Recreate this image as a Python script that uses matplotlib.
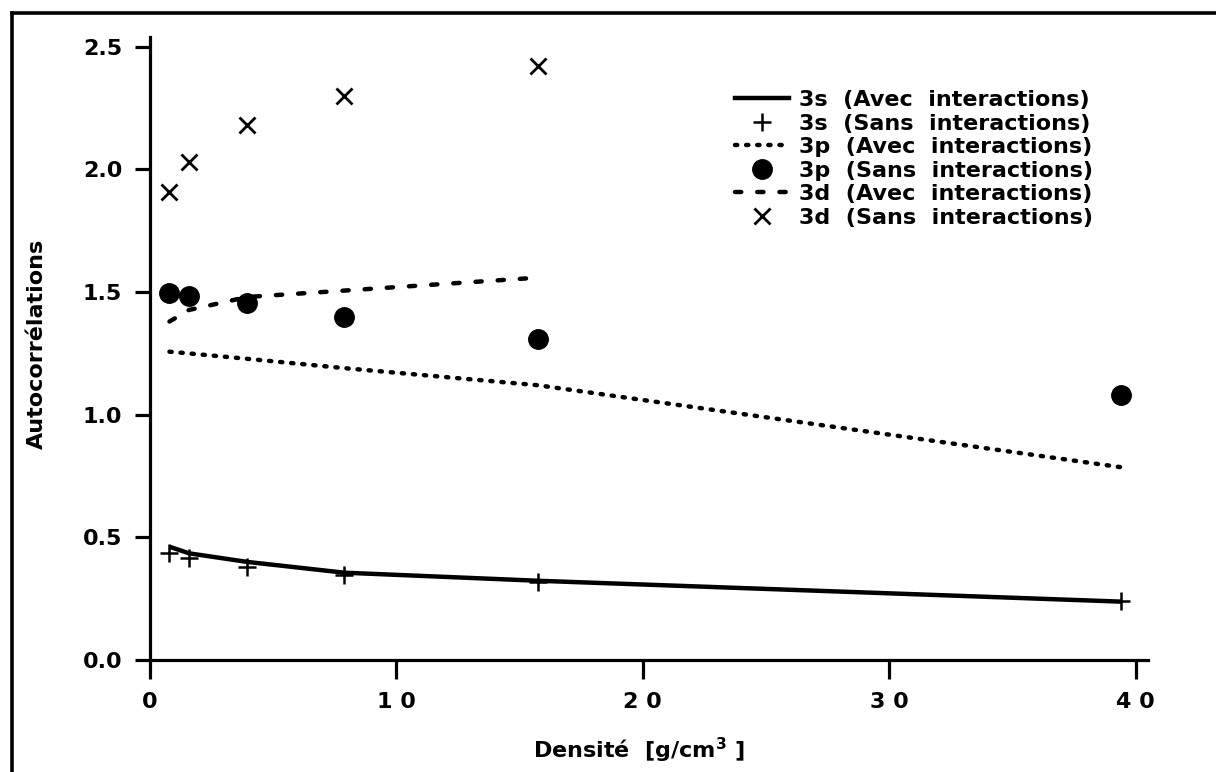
import matplotlib
matplotlib.use('Agg')
import matplotlib.pyplot as plt
from matplotlib.lines import Line2D

# Densités (g/cm3)
densite = [0.79, 1.58, 3.94, 7.88, 15.76, 39.4]
densite_3d = [0.79, 1.58, 3.94, 7.88, 15.76]

# Autocorrélations
s_avec = [0.462, 0.435, 0.400, 0.356, 0.323, 0.238]
s_sans = [0.435, 0.415, 0.380, 0.347, 0.319, 0.242]
p_avec = [1.257, 1.250, 1.228, 1.190, 1.120, 0.786]
p_sans = [1.498, 1.486, 1.455, 1.400, 1.310, 1.081]
d_avec = [1.380, 1.427, 1.480, 1.506, 1.559]
d_sans = [1.910, 2.030, 2.180, 2.300, 2.420]

labels = ['3s  (Avec  interactions)', '3s  (Sans  interactions)',
          '3p  (Avec  interactions)', '3p  (Sans  interactions)',
          '3d  (Avec  interactions)', '3d  (Sans  interactions)']

xticks = [0, 10, 20, 30, 40]
xtick_labels = ['0', '1 0', '2 0', '3 0', '4 0']
yticks = [0.0, 0.5, 1.0, 1.5, 2.0, 2.5]
ytick_labels = ['0.0', '0.5', '1.0', '1.5', '2.0', '2.5']

plt.rcParams['font.family'] = ['DejaVu Sans']
plt.rcParams['font.weight'] = 'bold'
plt.rcParams['mathtext.fontset'] = 'dejavusans'

W, H = 1216, 772
fig = plt.figure(figsize=(W / 100, H / 100), dpi=100)
ax = fig.add_axes([150 / W, 112 / H, 998 / W, 623 / H])

ax.plot(densite, s_avec, color='black', lw=3.2, solid_capstyle='butt')
ax.plot(densite, s_sans, ls='none', marker='+', ms=13, mew=1.8, color='black')
ax.plot(densite, p_avec, color='black', lw=3.2, ls=(0, (0.5, 2.0)), dash_capstyle='round')
ax.plot(densite, p_sans, ls='none', marker='o', ms=14, color='black')
ax.plot(densite_3d, d_avec, color='black', lw=3.2, ls=(0, (1.4, 3.6)), dash_capstyle='round')
ax.plot(densite_3d, d_sans, ls='none', marker='x', ms=12, mew=2.0, color='black')

ax.set_xlim(0, 40.5)
ax.set_ylim(0, 2.54)
ax.set_xticks(xticks)
ax.set_xticklabels(xtick_labels)
ax.set_yticks(yticks)
ax.set_yticklabels(ytick_labels)

for side in ['top', 'right']:
    ax.spines[side].set_visible(False)
for side in ['left', 'bottom']:
    ax.spines[side].set_linewidth(2.3)

ax.tick_params(axis='x', direction='out', length=14, width=2.3, pad=9, labelsize=16)
ax.tick_params(axis='y', direction='out', length=11, width=2.3, pad=9, labelsize=16)

ax.set_xlabel('Densité  [g/cm$^{3}$ ]', fontsize=16, fontweight='bold')
ax.xaxis.set_label_coords(0.49, -0.122)
ax.set_ylabel('Autocorrélations', fontsize=16, fontweight='bold')
ax.yaxis.set_label_coords(-0.103, 0.507)

handles = [
    Line2D([0], [0], color='black', lw=3.2),
    Line2D([0], [0], ls='none', marker='+', ms=13, mew=1.8, color='black'),
    Line2D([0], [0], color='black', lw=3.2, ls=(0, (0.5, 2.0)), dash_capstyle='round'),
    Line2D([0], [0], ls='none', marker='o', ms=14, color='black'),
    Line2D([0], [0], color='black', lw=3.2, ls=(0, (1.4, 3.6)), dash_capstyle='round'),
    Line2D([0], [0], ls='none', marker='x', ms=12, mew=2.0, color='black'),
]
fig.legend(handles, labels, loc='upper left', bbox_to_anchor=(735 / W, 1 - 90 / H),
           frameon=False, fontsize=16, handlelength=2.45, handletextpad=0.45,
           labelspacing=0.16, borderpad=0, borderaxespad=0, numpoints=1)

# cadre autour de la figure
fig.add_artist(Line2D([12 / W, 12 / W], [0, 1 - 13 / H], color='black', lw=2.6,
                      transform=fig.transFigure))
fig.add_artist(Line2D([12 / W, 1], [1 - 13 / H, 1 - 13 / H], color='black', lw=2.6,
                      transform=fig.transFigure))

fig.savefig('out.png', dpi=100)
